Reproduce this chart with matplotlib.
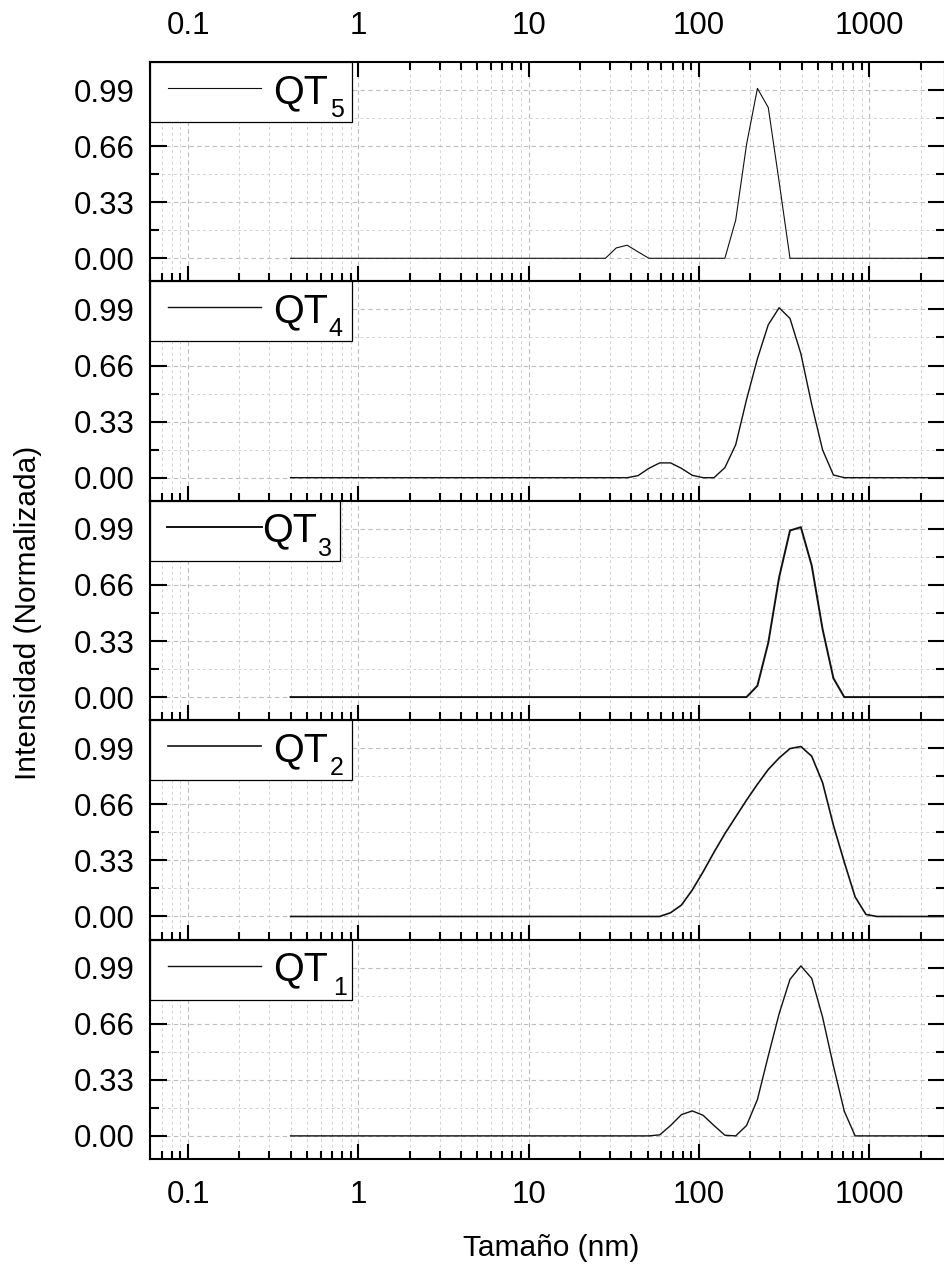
import matplotlib
matplotlib.use("Agg")
import matplotlib.pyplot as plt
import matplotlib.ticker as ticker
from matplotlib.patches import Rectangle

plt.rcParams['font.family'] = ['Liberation Sans', 'DejaVu Sans']

# DLS size distributions (size in nm, normalized intensity), top panel first
labels = ['QT', 'QT', 'QT', 'QT', 'QT']
subs = ['5', '4', '3', '2', '1']

size_qt5 = [0.4, 28.21, 32.67, 37.84, 43.82, 50.75, 141.8, 164.2, 190.1, 220.2,
            255.0, 295.3, 342.0, 10000]
int_qt5 = [0, 0, 0.061, 0.077, 0.038, 0, 0, 0.225, 0.67, 1.0,
           0.887, 0.45, 0, 0]

size_qt4 = [0.4, 37.84, 43.82, 50.75, 58.77, 68.06, 78.82, 91.28, 105.7, 122.4,
            141.8, 164.2, 190.1, 220.2, 255.0, 295.3, 342.0, 396.1, 458.7, 531.2,
            615.1, 712.4, 10000]
int_qt4 = [0, 0, 0.012, 0.055, 0.087, 0.087, 0.055, 0.014, 0, 0,
           0.059, 0.194, 0.46, 0.70, 0.90, 1.0, 0.937, 0.73, 0.43, 0.164,
           0.016, 0, 0]

size_qt3 = [0.4, 190.1, 220.2, 255.0, 295.3, 342.0, 396.1, 458.7, 531.2, 615.1,
            712.4, 10000]
int_qt3 = [0, 0, 0.067, 0.32, 0.705, 0.98, 1.0, 0.774, 0.40, 0.111,
           0, 0]

size_qt2 = [0.4, 58.77, 68.06, 78.82, 91.28, 105.7, 122.4, 141.8, 164.2, 190.1,
            220.2, 255.0, 295.3, 342.0, 396.1, 458.7, 531.2, 615.1, 712.4, 825.0,
            955.4, 1106, 10000]
int_qt2 = [0, 0, 0.022, 0.067, 0.156, 0.263, 0.378, 0.487, 0.586, 0.685,
           0.778, 0.865, 0.933, 0.988, 1.0, 0.943, 0.788, 0.537, 0.32, 0.115,
           0.012, 0, 0]

size_qt1 = [0.4, 50.75, 58.77, 68.06, 78.82, 91.28, 105.7, 122.4, 141.8, 164.2,
            190.1, 220.2, 255.0, 295.3, 342.0, 396.1, 458.7, 531.2, 615.1, 712.4,
            825.0, 10000]
int_qt1 = [0, 0, 0.006, 0.061, 0.125, 0.147, 0.121, 0.061, 0.004, 0,
           0.061, 0.214, 0.471, 0.719, 0.921, 1.0, 0.927, 0.699, 0.412, 0.145,
           0, 0]

sizes = [size_qt5, size_qt4, size_qt3, size_qt2, size_qt1]
intens = [int_qt5, int_qt4, int_qt3, int_qt2, int_qt1]

y_major = [0, 0.33, 0.66, 0.99]
y_minor = [0.165, 0.495, 0.825]

# line widths and legend box geometry (axes fraction) per panel
line_w = [0.8, 1.0, 1.4, 1.2, 1.0]
box_w = [0.254, 0.254, 0.239, 0.254, 0.254]
leg_line = [(0.0226, 0.1396), (0.0226, 0.1396), (0.0214, 0.1409),
            (0.0226, 0.1396), (0.0226, 0.1396)]
txt_x = [0.1547, 0.1547, 0.141, 0.1547, 0.1547]
sub_x = [0.2264, 0.2239, 0.211, 0.2264, 0.2302]

W, H = 945, 1266
fig, axes = plt.subplots(5, 1, sharex=True, figsize=(W / 100, H / 100), dpi=100)
fig.subplots_adjust(left=150 / W, right=1.0, top=1 - 62 / H, bottom=1 - 1159 / H,
                    hspace=0)

for i, ax in enumerate(axes):
    ax.plot(sizes[i], intens[i], color='#111111', lw=line_w[i], zorder=3)
    ax.set_xscale('log')
    ax.set_xlim(0.0598, 2780)
    ax.set_ylim(-0.136, 1.155)

    ax.set_yticks(y_major)
    ax.set_yticks(y_minor, minor=True)
    ax.yaxis.set_major_formatter(ticker.FormatStrFormatter('%.2f'))
    ax.xaxis.set_major_locator(ticker.LogLocator(base=10, numticks=20))
    ax.xaxis.set_minor_locator(ticker.LogLocator(base=10, subs=range(2, 10), numticks=20))
    ax.xaxis.set_major_formatter(ticker.FuncFormatter(lambda v, _: f"{v:g}"))
    ax.xaxis.set_minor_formatter(ticker.NullFormatter())

    ax.grid(True, which='major', color='#bdbdbd', ls=(0, (4, 3)), lw=0.8)
    ax.grid(True, which='minor', color='#d2d2d2', ls=(0, (3, 3)), lw=0.7)
    ax.set_axisbelow(True)

    for sp in ax.spines.values():
        sp.set_linewidth(1.5)

    ax.tick_params(which='both', direction='in', width=1.5, right=True,
                   top=(i == 0), labeltop=(i == 0), bottom=True,
                   labelbottom=(i == 4), labelsize=22.5, colors='black')
    ax.tick_params(axis='x', which='major', length=11, pad=15)
    ax.tick_params(axis='x', which='minor', length=5.5)
    ax.tick_params(axis='y', which='major', length=12, pad=11)
    ax.tick_params(axis='y', which='minor', length=6.5)

    # legend box in the top-left corner
    ax.add_patch(Rectangle((0, 0.7265), box_w[i], 0.2735, transform=ax.transAxes,
                           facecolor='white', edgecolor='black', lw=0.9,
                           zorder=5, clip_on=False))
    ax.plot(leg_line[i], [0.8815, 0.8815], transform=ax.transAxes,
            color='#111111', lw=line_w[i], zorder=6)
    ax.text(txt_x[i], 0.813, labels[i], transform=ax.transAxes, fontsize=28.5,
            va='baseline', ha='left', zorder=6)
    ax.text(sub_x[i], 0.749, subs[i], transform=ax.transAxes, fontsize=18,
            va='baseline', ha='left', zorder=6)

fig.text(551 / W, 1 - 1248 / H, 'Tamaño (nm)', fontsize=21.5, ha='center', va='center')
fig.text(28 / W, 1 - 613 / H, 'Intensidad (Normalizada)', fontsize=21.5,
         rotation=90, ha='center', va='center')

fig.savefig('out.png', dpi=100, facecolor='white')
